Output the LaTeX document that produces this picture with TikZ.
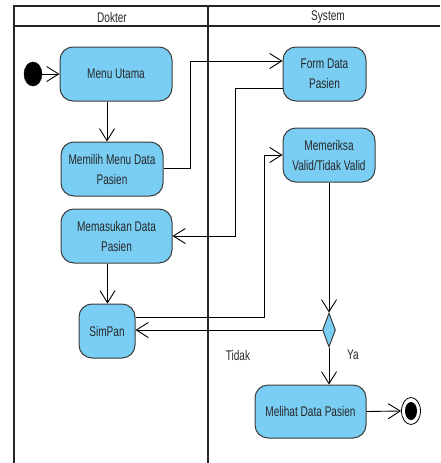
\documentclass[tikz,border=0pt]{standalone}
\usepackage{fontspec}
\setmainfont{Liberation Sans}[FakeStretch=0.72]
\usetikzlibrary{arrows.meta,shapes.geometric}
\definecolor{actblue}{RGB}{122,206,244}
\definecolor{edgegray}{RGB}{60,60,60}
\begin{document}
\begin{tikzpicture}[x=1pt,y=-1pt,
  font=\fontsize{14}{20}\selectfont,
  act/.style={draw=edgegray,line width=1pt,fill=actblue,rounded corners=13pt,align=center,inner sep=0pt,text=black!85},
  arr/.style={draw=black,line width=0.9pt,-{Straight Barb[length=12pt,width=15pt,line width=0.9pt]}},
  lane/.style={draw=black!85,line width=1.8pt},
  lbl/.style={inner sep=0pt,text=black!85}]
\useasboundingbox (0,0) rectangle (440,463);
% swimlanes
\draw[lane] (14,6) -- (440,6);
\draw[lane] (14,26) -- (440,26);
\draw[lane] (14,5) -- (14,463);
\draw[lane] (208,5) -- (208,463);
\node[lbl] (hd) at (112,17) {Dokter};
\node[lbl] (hs) at (328,17) {System};
% start / end
\node[draw=black,fill=black,ellipse,minimum width=18pt,minimum height=24pt,inner sep=0pt] (start) at (33,74) {};
\node[draw=black,line width=0.8pt,fill=white,ellipse,minimum width=19pt,minimum height=27pt,inner sep=0pt] (end) at (411,411) {};
\node[fill=black,ellipse,minimum width=12pt,minimum height=18pt,inner sep=0pt] (endin) at (411,411) {};
% activities
\node[act,minimum width=112pt,minimum height=54pt] (mu) at (116,74) {Menu Utama};
\node[act,minimum width=102pt,minimum height=54pt] (mm) at (112,169) {Memilih Menu Data\\Pasien};
\node[act,minimum width=111pt,minimum height=54pt] (ms) at (116.5,236) {Memasukan Data\\Pasien};
\node[act,minimum width=56pt,minimum height=54pt] (sp) at (107,331) {SimPan};
\node[act,minimum width=83pt,minimum height=54pt] (fd) at (324.5,74) {Form Data\\Pasien};
\node[act,minimum width=92pt,minimum height=54pt] (mv) at (329,155) {Memeriksa\\Valid/Tidak Valid};
\node[act,minimum width=111pt,minimum height=53pt] (ml) at (310.5,411.5) {Melihat Data Pasien};
\node[draw=edgegray,line width=1pt,fill=actblue,diamond,minimum width=13pt,minimum height=34pt,inner sep=0pt] (dec) at (329,330) {};
% connectors
\draw[arr] (start.east) -- (mu.west);
\draw[arr] ([xshift=-9pt]mu.south) -- ([xshift=-9pt]mu.south |- mm.north);
\draw[arr] ([yshift=1pt]mm.east) -- ++(27,0) |- ([yshift=13pt]fd.west);
\draw[arr] ([yshift=-14pt]fd.west) -- ++(-47,0) |- (ms.east);
\draw[arr] ([xshift=-9pt]ms.south) -- ([xshift=-9pt]ms.south |- sp.north);
\draw[arr] ([yshift=14pt]sp.east) -- ++(129,0) |- (mv.west);
\draw[arr] (mv.south) -- (dec.north);
\draw[arr] (dec.west) -- (dec.west -| sp.east);
\draw[arr] (dec.south) -- (dec.south |- ml.north);
\draw[arr] (ml.east) -- (end.west);
\node[lbl] (tidak) at (238,355) {Tidak};
\node[lbl] (ya) at (353,355) {Ya};
\end{tikzpicture}
\end{document}
